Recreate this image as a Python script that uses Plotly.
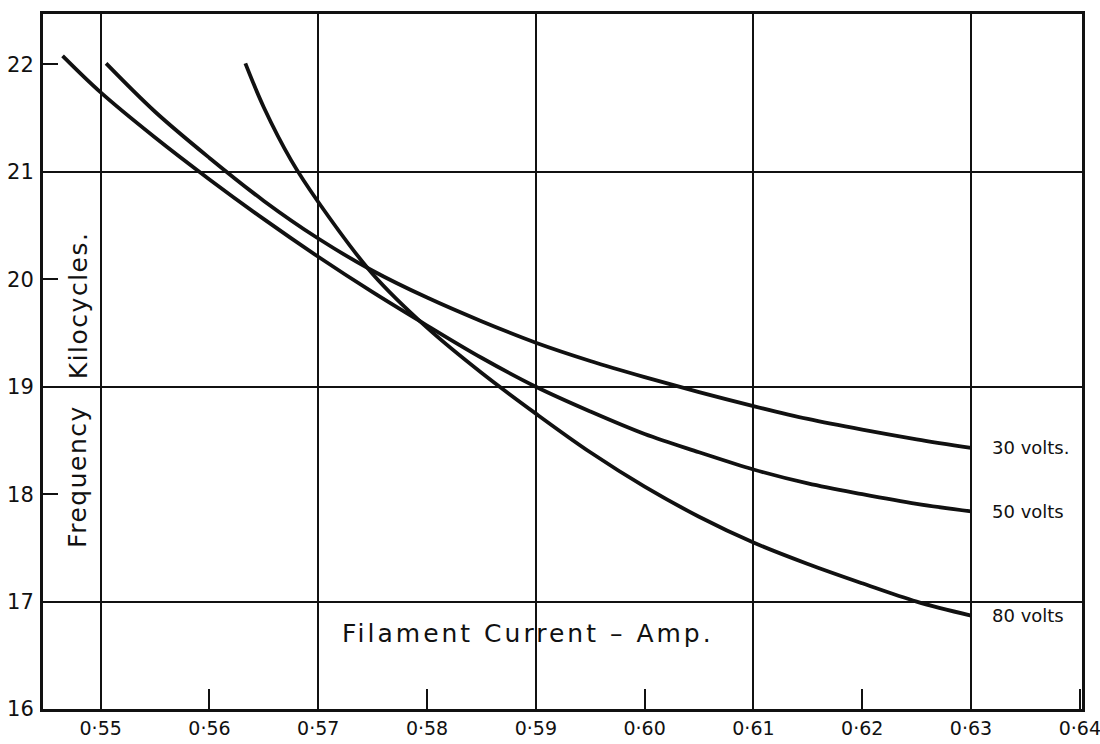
import plotly.graph_objects as go

# ---- data ----
x_30v = [0.5505, 0.555, 0.56, 0.565, 0.57, 0.575, 0.58, 0.585, 0.59, 0.595,
         0.60, 0.605, 0.61, 0.615, 0.62, 0.625, 0.63]
y_30v = [22.01, 21.56, 21.13, 20.73, 20.38, 20.08, 19.83, 19.61, 19.41, 19.24,
         19.09, 18.95, 18.82, 18.70, 18.60, 18.51, 18.43]

x_50v = [0.5465, 0.55, 0.555, 0.56, 0.565, 0.57, 0.575, 0.58, 0.585, 0.59,
         0.595, 0.60, 0.605, 0.61, 0.615, 0.62, 0.625, 0.63]
y_50v = [22.08, 21.74, 21.32, 20.93, 20.56, 20.21, 19.88, 19.57, 19.27, 19.00,
         18.77, 18.56, 18.39, 18.23, 18.10, 18.00, 17.91, 17.84]

x_80v = [0.5633, 0.565, 0.5675, 0.57, 0.575, 0.58, 0.585, 0.59, 0.595, 0.60,
         0.605, 0.61, 0.615, 0.62, 0.625, 0.63]
y_80v = [22.01, 21.60, 21.11, 20.72, 20.05, 19.55, 19.13, 18.75, 18.39, 18.07,
         17.79, 17.55, 17.35, 17.17, 17.00, 16.87]

series_names = ["30 volts.", "50 volts", "80 volts"]

x_tick_vals = [0.55, 0.56, 0.57, 0.58, 0.59, 0.60, 0.61, 0.62, 0.63, 0.64]
x_tick_text = ["0·55", "0·56", "0·57", "0·58", "0·59", "0·60", "0·61", "0·62", "0·63", "0·64"]
y_tick_vals = [16, 17, 18, 19, 20, 21, 22]
y_tick_text = ["16", "17", "18", "19", "20", "21", "22"]

x_grid_vals = [0.55, 0.57, 0.59, 0.61, 0.63]
y_grid_vals = [17, 19, 21]

x_range = [0.5447, 0.6402]
y_range = [16.0, 22.47]

FONT = "DejaVu Sans"
INK = "#111111"

fig = go.Figure()

for xs, ys, name in [(x_30v, y_30v, series_names[0]),
                     (x_50v, y_50v, series_names[1]),
                     (x_80v, y_80v, series_names[2])]:
    fig.add_trace(go.Scatter(
        x=xs, y=ys, mode="lines", name=name,
        line=dict(color=INK, width=3.8, shape="spline", smoothing=1.0),
        showlegend=False, hoverinfo="skip"))
    fig.add_annotation(
        x=xs[-1], y=ys[-1], xref="x", yref="y", text=name,
        showarrow=False, xanchor="left", yanchor="middle", xshift=19,
        font=dict(family=FONT, size=18, color=INK))

# empty trace binding the grid-only overlay axes
fig.add_trace(go.Scatter(x=[], y=[], xaxis="x2", yaxis="y2",
                         showlegend=False, hoverinfo="skip"))

fig.update_layout(
    width=1100, height=744,
    margin=dict(l=43, r=18, t=14, b=35, autoexpand=False),
    paper_bgcolor="white", plot_bgcolor="white",
    xaxis=dict(
        range=x_range, tickvals=x_tick_vals, ticktext=x_tick_text,
        ticks="inside", ticklen=20, tickwidth=2, tickcolor=INK,
        showgrid=False, zeroline=False, automargin=False,
        showline=True, mirror=True, linewidth=3, linecolor=INK,
        tickfont=dict(family=FONT, size=19, color=INK),
        ticklabelstandoff=0, ticklabeloverflow="allow"),
    yaxis=dict(
        range=y_range, tickvals=y_tick_vals, ticktext=y_tick_text,
        ticks="inside", ticklen=15, tickwidth=2, tickcolor=INK,
        showgrid=False, zeroline=False, automargin=False,
        showline=True, mirror=True, linewidth=3, linecolor=INK,
        tickfont=dict(family=FONT, size=21, color=INK),
        ticklabelstandoff=2, ticklabeloverflow="allow"),
    xaxis2=dict(
        overlaying="x", anchor="y", range=x_range, tickvals=x_grid_vals,
        showgrid=True, gridcolor=INK, gridwidth=2, showticklabels=False,
        ticks="", zeroline=False, showline=False, automargin=False),
    yaxis2=dict(
        overlaying="y", anchor="x", range=y_range, tickvals=y_grid_vals,
        showgrid=True, gridcolor=INK, gridwidth=2, showticklabels=False,
        ticks="", zeroline=False, showline=False, automargin=False),
)

fig.add_annotation(
    xref="paper", yref="paper", x=0.467, y=0.109,
    text='<span style="letter-spacing:3px">Filament Current – Amp.</span>',
    showarrow=False, xanchor="center", yanchor="middle",
    font=dict(family=FONT, size=25, color=INK))
fig.add_annotation(
    xref="paper", yref="paper", x=0.0337, y=0.581,
    text='<span style="letter-spacing:1.5px">Kilocycles.</span>',
    textangle=-90, showarrow=False, xanchor="center", yanchor="middle",
    font=dict(family=FONT, size=25, color=INK))
fig.add_annotation(
    xref="paper", yref="paper", x=0.0337, y=0.334,
    text='<span style="letter-spacing:1.5px">Frequency</span>',
    textangle=-90, showarrow=False, xanchor="center", yanchor="middle",
    font=dict(family=FONT, size=25, color=INK))

fig.write_html("out.html")
